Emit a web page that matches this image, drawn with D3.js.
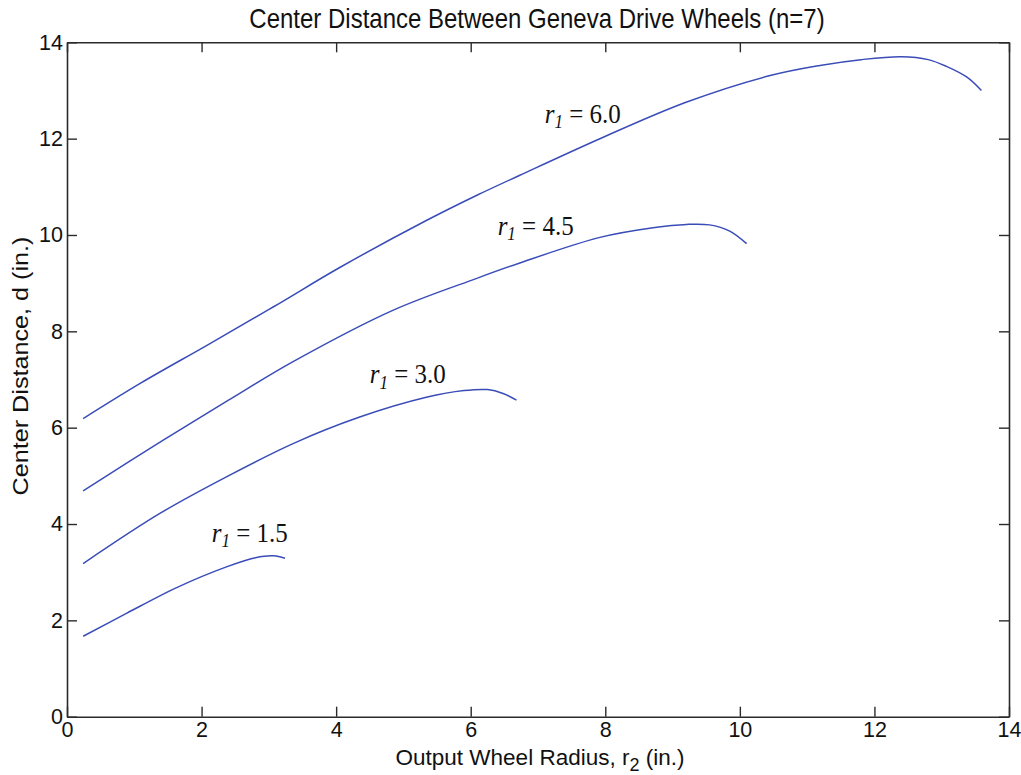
<!DOCTYPE html>
<html>
<head>
<meta charset="utf-8">
<script src="https://cdn.jsdelivr.net/npm/d3@7"></script>
<style>
  html, body { margin: 0; padding: 0; background: #fff; }
  svg { display: block; }
</style>
</head>
<body>
<svg id="chart" width="1021" height="775"></svg>
<script>
// ---- data ----
const xTicks = [0, 2, 4, 6, 8, 10, 12, 14];
const yTicks = [0, 2, 4, 6, 8, 10, 12, 14];

const r1Values = [6.0, 4.5, 3.0, 1.5];

const curveR1_60 = [
  [0.24, 6.19], [1.10, 6.93], [2.08, 7.71], [3.07, 8.51], [4.06, 9.33], [5.34, 10.30],
  [6.10, 10.83], [6.73, 11.24], [7.97, 12.03], [9.21, 12.76], [10.45, 13.31], [11.19, 13.52],
  [11.80, 13.64], [12.40, 13.70], [12.80, 13.64], [13.07, 13.50], [13.37, 13.28], [13.59, 13.00]
];
const curveR1_45 = [
  [0.24, 4.69], [1.43, 5.74], [2.40, 6.57], [3.36, 7.37], [4.85, 8.44], [6.09, 9.10],
  [6.73, 9.42], [7.92, 9.95], [8.71, 10.15], [9.21, 10.22], [9.55, 10.21],
  [9.85, 10.08], [10.10, 9.82]
];
const curveR1_30 = [
  [0.24, 3.18], [1.38, 4.22], [2.37, 4.98], [3.36, 5.67], [4.35, 6.22],
  [5.34, 6.63], [5.90, 6.77], [6.25, 6.79], [6.48, 6.71], [6.68, 6.57]
];
const curveR1_15 = [
  [0.24, 1.67], [0.89, 2.15], [1.63, 2.68], [2.37, 3.11], [2.80, 3.30],
  [3.07, 3.34], [3.24, 3.29]
];
const curves = [curveR1_60, curveR1_45, curveR1_30, curveR1_15];

// label anchor positions (data coordinates: start x, baseline y)
const labelX = [7.10, 6.40, 4.50, 2.15];
const labelY = [12.32, 10.0, 6.92, 3.63];

const titleText = "Center Distance Between Geneva Drive Wheels (n=7)";
const xLabelMain = "Output Wheel Radius, r";
const xLabelSub = "2";
const xLabelTail = " (in.)";
const yLabelText = "Center Distance, d (in.)";

// ---- layout ----
const svg = d3.select("#chart");
const mLeft = 67, mRight = 1009, mTop = 42.3, mBottom = 716.7;
const x = d3.scaleLinear().domain([0, 14]).range([mLeft, mRight]);
const y = d3.scaleLinear().domain([0, 14]).range([mBottom, mTop]);

const axisColor = "#2b2b2b";
const lineColor = "#3a4cb8";
const sans = "'Liberation Sans', Arial, Helvetica, sans-serif";
const serif = "'Liberation Serif', 'Times New Roman', Times, serif";
const vStretch = 1.12; // the scanned reference text is slightly taller than wide

// axes
const gB = svg.append("g").attr("transform", `translate(0,${mBottom})`)
  .call(d3.axisBottom(x).tickValues(xTicks).tickSizeInner(-10).tickSizeOuter(0).tickPadding(5).tickFormat(d3.format("d")));
const gT = svg.append("g").attr("transform", `translate(0,${mTop})`)
  .call(d3.axisTop(x).tickValues(xTicks).tickSizeInner(-10).tickSizeOuter(0).tickFormat(""));
const gL = svg.append("g").attr("transform", `translate(${mLeft},0)`)
  .call(d3.axisLeft(y).tickValues(yTicks).tickSizeInner(-10).tickSizeOuter(0).tickPadding(4).tickFormat(d3.format("d")));
const gR = svg.append("g").attr("transform", `translate(${mRight},0)`)
  .call(d3.axisRight(y).tickValues(yTicks).tickSizeInner(-10).tickSizeOuter(0).tickFormat(""));

[gB, gT, gL, gR].forEach(g => {
  g.selectAll("path.domain").attr("stroke", axisColor).attr("stroke-width", 1.6);
  g.selectAll(".tick line").attr("stroke", axisColor).attr("stroke-width", 1.4);
  g.selectAll(".tick text").attr("fill", "#111").style("font-family", sans).style("font-size", "21.5px");
});
gB.selectAll(".tick text").attr("dy", "0.72em");

// curves
const line = d3.line().x(d => x(d[0])).y(d => y(d[1])).curve(d3.curveCatmullRom.alpha(0.5));
svg.append("g").selectAll("path.curve").data(curves).join("path")
  .attr("class", "curve")
  .attr("d", line)
  .attr("fill", "none")
  .attr("stroke", lineColor)
  .attr("stroke-width", 1.5);

// curve labels
const lg = svg.append("g").selectAll("g.lbl").data(r1Values).join("g")
  .attr("class", "lbl")
  .attr("transform", (d, i) => `translate(${x(labelX[i])},${y(labelY[i])}) scale(1,1.05)`);
const labels = lg.append("text")
  .attr("fill", "#111")
  .style("font-family", serif)
  .style("font-size", "25px");
labels.append("tspan").style("font-style", "italic").text("r");
labels.append("tspan").style("font-style", "italic").style("font-size", "17px").attr("dy", 5).text("1");
labels.append("tspan").attr("dy", -5).text(d => " = " + d.toFixed(1));

// title
svg.append("g").attr("transform", `translate(537,28) scale(1,${vStretch})`)
  .append("text")
  .attr("text-anchor", "middle")
  .attr("fill", "#111")
  .style("font-family", sans).style("font-size", "24px")
  .text(titleText);

// x label
const xl = svg.append("text")
  .attr("x", 540).attr("y", 765)
  .attr("text-anchor", "middle")
  .attr("fill", "#111")
  .style("font-family", sans).style("font-size", "22.5px");
xl.append("tspan").text(xLabelMain);
xl.append("tspan").attr("dy", 6).style("font-size", "18px").text(xLabelSub);
xl.append("tspan").attr("dy", -6).text(xLabelTail);

// y label
svg.append("g").attr("transform", `translate(28,366) rotate(-90) scale(1.12,1)`)
  .append("text")
  .attr("text-anchor", "middle")
  .attr("fill", "#111")
  .style("font-family", sans).style("font-size", "22.5px")
  .text(yLabelText);
</script>
</body>
</html>
